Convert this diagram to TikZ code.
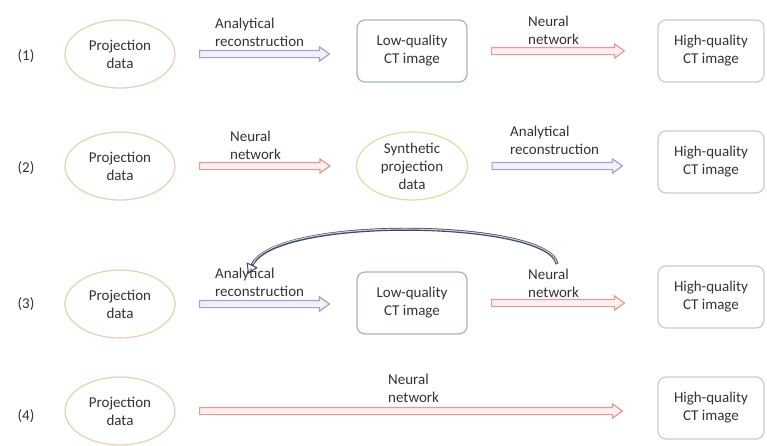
\documentclass[tikz,border=0pt]{standalone}
\usepackage{fontspec}
\setmainfont{Carlito}
\usetikzlibrary{shapes.geometric,arrows.meta,calc}
\definecolor{txt}{HTML}{333333}
\definecolor{ellc}{HTML}{E6CFB4}
\definecolor{sync}{HTML}{E0DCA4}
\definecolor{lowc}{HTML}{A4B2C6}
\definecolor{highc}{HTML}{C8CEC2}
\definecolor{blueo}{HTML}{A2A2CE}
\definecolor{bluef}{HTML}{F1F1F9}
\definecolor{redo}{HTML}{E39A9A}
\definecolor{redf}{HTML}{FCEFEF}
\definecolor{curvec}{HTML}{3E4862}
\definecolor{curvei}{HTML}{C9CDD6}
\newcommand\blockarr[4]{%
  \path[#1] let \p1=(#2.east), \p2=(#3.west) in
    (\x1+24pt,\y1-3.6pt) -- (\x2-#4-10pt,\y1-3.6pt) -- (\x2-#4-10pt,\y1-7.2pt)
    -- (\x2-#4,\y1) -- (\x2-#4-10pt,\y1+7.2pt) -- (\x2-#4-10pt,\y1+3.6pt)
    -- (\x1+24pt,\y1+3.6pt) -- cycle;}
\begin{document}
\begin{tikzpicture}[x=1pt,y=-1pt,
  every node/.style={text=txt,font=\fontsize{15}{18}\selectfont},
  rowlab/.style={inner sep=0pt},
  projell/.style={ellipse,draw=ellc,line width=1.2pt,minimum width=110pt,minimum height=68pt,inner sep=0pt,align=center},
  synell/.style={ellipse,draw=sync,line width=1.2pt,minimum width=111pt,minimum height=68pt,inner sep=0pt,align=center},
  lowbox/.style={rectangle,rounded corners=8pt,draw=lowc,line width=1.2pt,minimum width=110pt,minimum height=62pt,align=center},
  highbox/.style={rectangle,rounded corners=8pt,draw=highc,line width=1.2pt,minimum width=106pt,minimum height=62pt,align=center},
  arrlab/.style={anchor=south west,inner sep=0pt,align=left},
  bluearr/.style={draw=blueo,fill=bluef,line width=1.2pt,line join=miter},
  redarr/.style={draw=redo,fill=redf,line width=1.2pt,line join=miter}]
\useasboundingbox (0,0) rectangle (767,445);

% row labels
\node[rowlab] (r1) at (26,56) {(1)};
\node[rowlab] (r2) at (26,168) {(2)};
\node[rowlab] (r3) at (26,304) {(3)};
\node[rowlab] (r4) at (26,416) {(4)};

% row 1
\node[projell] (p1) at (120,54) {Projection\\data};
\node[lowbox] (l1) at (412,51) {Low-quality\\CT image};
\node[highbox] (h1) at (711,51) {High-quality\\CT image};
\blockarr{bluearr}{p1}{l1}{27pt}
\blockarr{redarr}{l1}{h1}{33pt}
\node[arrlab] (t1a) at (215,47) {Analytical\\reconstruction};
\node[arrlab] (t1b) at (528,45) {Neural\\network};

% row 2
\node[projell] (p2) at (120,166) {Projection\\data};
\node[synell] (s2) at (412,166) {Synthetic\\projection\\data};
\node[highbox] (h2) at (711,162) {High-quality\\CT image};
\blockarr{redarr}{p2}{s2}{26pt}
\blockarr{bluearr}{s2}{h2}{35pt}
\node[arrlab] (t2a) at (230,160) {Neural\\network};
\node[arrlab] (t2b) at (510,155) {Analytical\\reconstruction};

% row 3
\node[projell] (p3) at (120,304) {Projection\\data};
\node[lowbox] (l3) at (412,303) {Low-quality\\CT image};
\node[highbox] (h3) at (711,297) {High-quality\\CT image};
\blockarr{bluearr}{p3}{l3}{27pt}
\blockarr{redarr}{l3}{h3}{33pt}
\node[arrlab] (t3a) at (215,297) {Analytical\\reconstruction};
\node[arrlab] (t3b) at (528,298) {Neural\\network};
\coordinate (cs) at (557,264);
\coordinate (ce) at (248,274);
\draw[curvec,line width=3pt,-{Triangle[open,length=10pt,width=12pt,line width=1pt]}]
  (cs) .. controls (550,220) and (275,215) .. (ce);
\draw[curvei,line width=1.1pt,shorten >=11pt,shorten <=0.6pt]
  (cs) .. controls (550,220) and (275,215) .. (ce);

% row 4
\node[projell] (p4) at (120,411) {Projection\\data};
\node[highbox] (h4) at (711,408) {High-quality\\CT image};
\blockarr{redarr}{p4}{h4}{35pt}
\node[arrlab] (t4) at (388,403) {Neural\\network};
\end{tikzpicture}
\end{document}
